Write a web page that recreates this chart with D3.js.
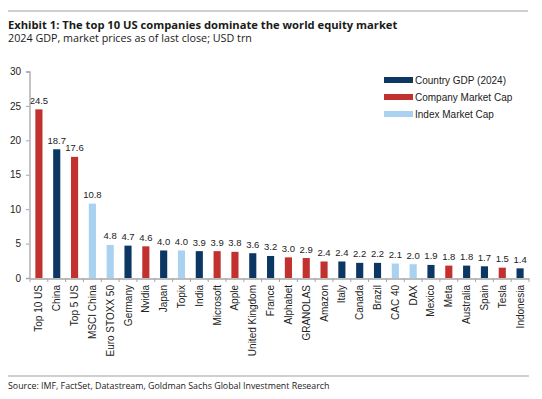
<!DOCTYPE html>
<html>
<head>
<meta charset="utf-8">
<script src="https://cdn.jsdelivr.net/npm/d3@7"></script>
<style>
  html, body { margin: 0; padding: 0; background: #fff; }
  svg { display: block; }
</style>
</head>
<body>
<svg id="chart" width="542" height="399"></svg>
<script>
const categories = ["Top 10 US","China","Top 5 US","MSCI China","Euro STOXX 50","Germany","Nvidia","Japan","Topix","India","Microsoft","Apple","United Kingdom","France","Alphabet","GRANOLAS","Amazon","Italy","Canada","Brazil","CAC 40","DAX","Mexico","Meta","Australia","Spain","Tesla","Indonesia"];
const values = [24.5,18.7,17.6,10.8,4.8,4.7,4.6,4.0,4.0,3.9,3.9,3.8,3.6,3.2,3.0,2.9,2.4,2.4,2.2,2.2,2.1,2.0,1.9,1.8,1.8,1.7,1.5,1.4];
const groups = ["company","country","company","index","index","country","company","country","index","country","company","company","country","country","company","company","company","country","country","country","index","index","country","company","country","country","company","country"];
const seriesKeys = ["country","company","index"];
const seriesNames = ["Country GDP (2024)","Company Market Cap","Index Market Cap"];
const seriesColors = ["#0c3763","#c1312f","#a9d1f0"];
const yTicks = [0,5,10,15,20,25,30];
const titleText = "Exhibit 1: The top 10 US companies dominate the world equity market";
const subtitleText = "2024 GDP, market prices as of last close; USD trn";
const sourceText = "Source: IMF, FactSet, Datastream, Goldman Sachs Global Investment Research";

const svg = d3.select("#chart");
const axisFont = "'Liberation Sans', Arial, sans-serif";
const headFont = "'Open Sans', 'Noto Sans', sans-serif";
const axisColor = "#a6a6a6";

const color = d3.scaleOrdinal().domain(seriesKeys).range(seriesColors);
const x = d3.scaleBand().domain(categories).range([30, 529]).paddingInner(0.6).paddingOuter(0.3);
const y = d3.scaleLinear().domain([0, 30]).range([278, 71.5]);

// Header
svg.append("line").attr("x1", 8).attr("x2", 528).attr("y1", 11).attr("y2", 11)
  .attr("stroke", "#a0a0a0").attr("stroke-width", 1.2);
svg.append("text").attr("x", 8).attr("y", 28.5).text(titleText)
  .attr("font-family", headFont).attr("font-weight", "bold").attr("font-size", "11.2px").attr("fill", "#1a1a1a");
svg.append("text").attr("x", 8).attr("y", 41.5).text(subtitleText)
  .attr("font-family", headFont).attr("font-size", "10.75px").attr("fill", "#1a1a1a");

// Bars
const data = categories.map((c, i) => ({ c, v: values[i], g: groups[i] }));
svg.append("g").selectAll("rect").data(data).join("rect")
  .attr("x", d => x(d.c)).attr("width", x.bandwidth())
  .attr("y", d => y(d.v)).attr("height", d => y(0) - y(d.v))
  .attr("fill", d => color(d.g));

// Value labels
svg.append("g").selectAll("text").data(data).join("text")
  .attr("x", d => x(d.c) + x.bandwidth() / 2).attr("y", d => y(d.v) - 5.5)
  .attr("text-anchor", "middle").attr("font-family", axisFont).attr("font-size", "9.5px")
  .attr("fill", "#222").text(d => d.v.toFixed(1));

// Y axis
const yAxis = svg.append("g").attr("transform", "translate(29.5,0)")
  .call(d3.axisLeft(y).tickValues(yTicks).tickSize(3.5).tickPadding(5).tickFormat(d3.format("d")));
yAxis.select(".domain").attr("stroke", axisColor).attr("stroke-width", 1.3);
yAxis.selectAll(".tick line").attr("stroke", axisColor);
yAxis.selectAll("text").attr("font-family", axisFont).attr("font-size", "10px").attr("fill", "#222");

// X axis
const xAxis = svg.append("g").attr("transform", `translate(0,${y(0) + 0.5})`)
  .call(d3.axisBottom(x).tickSize(0).tickSizeOuter(0));
xAxis.select(".domain").attr("stroke", axisColor).attr("stroke-width", 1.3);
xAxis.selectAll(".tick line").remove();
// boundary ticks between categories
const step = x.step();
const bounds = categories.map(c => x(c) + x.bandwidth() / 2 - step / 2).concat([x(categories[categories.length - 1]) + x.bandwidth() / 2 + step / 2]);
xAxis.append("g").selectAll("line").data(bounds).join("line")
  .attr("x1", d => d).attr("x2", d => d).attr("y1", 0).attr("y2", 3.5)
  .attr("stroke", axisColor);
xAxis.selectAll(".tick text")
  .attr("font-family", axisFont).attr("font-size", "10px").attr("fill", "#222")
  .attr("text-anchor", "end").attr("transform", "rotate(-90)")
  .attr("x", -6.5).attr("y", 0).attr("dy", "0.35em");

// Legend
const legend = svg.append("g").selectAll("g").data(seriesKeys).join("g")
  .attr("transform", (d, i) => `translate(384,${80 + i * 17})`);
legend.append("rect").attr("x", 0).attr("y", -3).attr("width", 29).attr("height", 6)
  .attr("fill", d => color(d));
legend.append("text").attr("x", 31).attr("y", 0).attr("dy", "0.35em")
  .attr("font-family", axisFont).attr("font-size", "10px").attr("fill", "#222")
  .text((d, i) => seriesNames[i]);

// Footer
svg.append("line").attr("x1", 8).attr("x2", 529).attr("y1", 376).attr("y2", 376)
  .attr("stroke", "#a0a0a0").attr("stroke-width", 1.2);
svg.append("text").attr("x", 8).attr("y", 389).text(sourceText)
  .attr("font-family", headFont).attr("font-size", "8.85px").attr("fill", "#1a1a1a");
</script>
</body>
</html>
